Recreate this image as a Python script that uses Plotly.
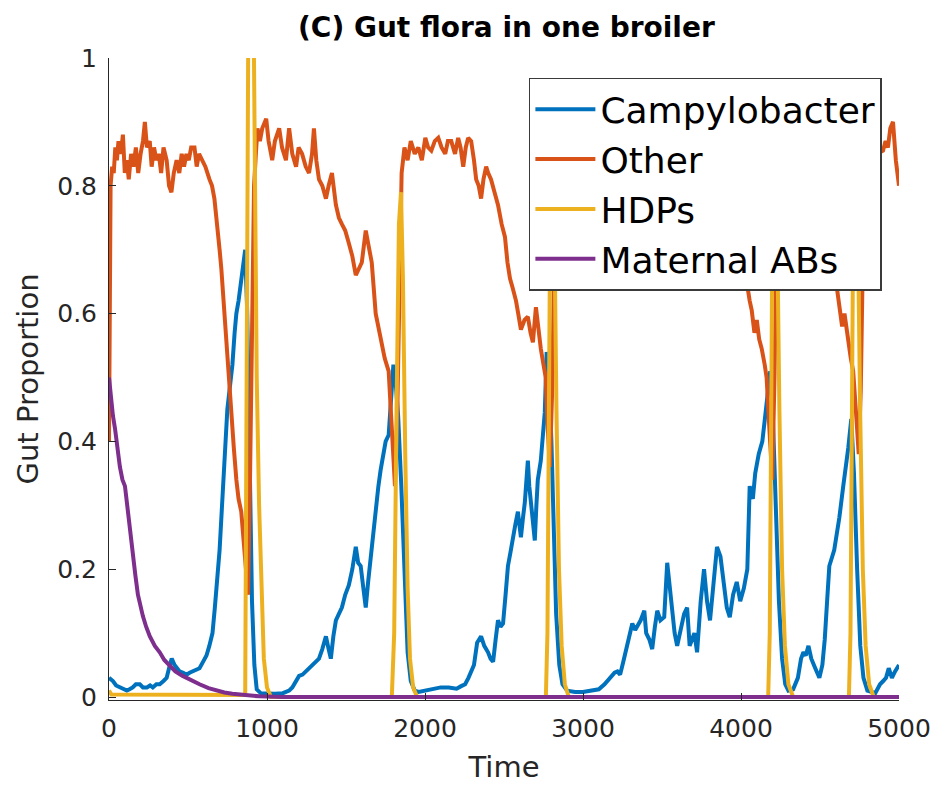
import plotly.graph_objects as go

# Simulation output: gut composition of a single broiler over time
camp_t = [0, 12, 25, 45, 70, 90, 113, 130, 150, 170, 195, 215, 240, 260, 277, 300, 321, 345, 365, 380,
          397, 415, 430, 447, 470, 491, 510, 529, 550, 573, 595, 617, 635, 655, 670, 686, 700, 711, 720, 730,
          740, 749, 765, 781, 795, 806, 820, 837, 850, 862, 875, 890, 905, 920, 935, 960, 1000, 1050, 1100, 1140,
          1160, 1180, 1203, 1225, 1247, 1265, 1285, 1305, 1329, 1350, 1373, 1390, 1404, 1420, 1436, 1455, 1474, 1495, 1518, 1540,
          1562, 1577, 1593, 1610, 1625, 1640, 1656, 1672, 1688, 1705, 1719, 1735, 1751, 1770, 1785, 1800, 1815, 1830, 1850, 1870,
          1890, 1910, 1935, 1960, 2000, 2050, 2100, 2150, 2200, 2229, 2254, 2275, 2292, 2310, 2330, 2355, 2375, 2399, 2415, 2431,
          2447, 2462, 2478, 2494, 2510, 2525, 2540, 2557, 2572, 2588, 2600, 2607, 2620, 2632, 2645, 2651, 2660, 2670, 2683, 2695,
          2705, 2714, 2733, 2745, 2758, 2770, 2785, 2800, 2815, 2830, 2850, 2870, 2900, 2950, 3000, 3050, 3100, 3136, 3155, 3174,
          3200, 3218, 3235, 3255, 3281, 3300, 3312, 3330, 3344, 3365, 3388, 3400, 3420, 3438, 3455, 3470, 3490, 3514, 3533, 3550,
          3564, 3580, 3596, 3615, 3640, 3659, 3675, 3690, 3705, 3722, 3745, 3766, 3785, 3804, 3825, 3848, 3870, 3892, 3910, 3929,
          3950, 3973, 3995, 4018, 4040, 4055, 4075, 4090, 4112, 4135, 4155, 4175, 4185, 4200, 4220, 4240, 4260, 4280, 4300, 4330,
          4360, 4380, 4395, 4410, 4427, 4445, 4470, 4496, 4515, 4530, 4545, 4559, 4590, 4610, 4622, 4647, 4665, 4679, 4698, 4715,
          4735, 4755, 4775, 4800, 4850, 4880, 4900, 4918, 4935, 4955, 4975, 4990, 5000]
camp_v = [0.030, 0.028, 0.025, 0.018, 0.015, 0.012, 0.010, 0.012, 0.015, 0.020, 0.020, 0.015, 0.015, 0.018, 0.015, 0.020, 0.020, 0.025, 0.030, 0.045,
          0.060, 0.050, 0.045, 0.040, 0.038, 0.035, 0.038, 0.040, 0.042, 0.045, 0.055, 0.065, 0.080, 0.100, 0.140, 0.180, 0.230, 0.280, 0.330, 0.370,
          0.410, 0.450, 0.480, 0.520, 0.570, 0.600, 0.620, 0.650, 0.670, 0.700, 0.600, 0.350, 0.150, 0.050, 0.012, 0.006, 0.005, 0.005, 0.006, 0.010,
          0.015, 0.025, 0.033, 0.035, 0.040, 0.045, 0.050, 0.055, 0.060, 0.075, 0.095, 0.075, 0.060, 0.095, 0.120, 0.130, 0.140, 0.160, 0.175, 0.200,
          0.235, 0.210, 0.205, 0.170, 0.140, 0.180, 0.220, 0.260, 0.300, 0.330, 0.355, 0.380, 0.400, 0.410, 0.470, 0.520, 0.490, 0.440, 0.330, 0.180,
          0.070, 0.025, 0.010, 0.008, 0.010, 0.012, 0.015, 0.015, 0.013, 0.017, 0.020, 0.030, 0.040, 0.050, 0.085, 0.095, 0.080, 0.070, 0.060, 0.055,
          0.090, 0.120, 0.110, 0.115, 0.160, 0.205, 0.225, 0.245, 0.270, 0.290, 0.260, 0.250, 0.280, 0.305, 0.350, 0.370, 0.330, 0.305, 0.270, 0.245,
          0.300, 0.340, 0.370, 0.400, 0.445, 0.540, 0.500, 0.400, 0.260, 0.130, 0.050, 0.020, 0.010, 0.008, 0.008, 0.010, 0.012, 0.020, 0.025, 0.030,
          0.038, 0.040, 0.035, 0.055, 0.080, 0.100, 0.115, 0.105, 0.110, 0.120, 0.135, 0.100, 0.090, 0.075, 0.110, 0.135, 0.120, 0.125, 0.210, 0.170,
          0.135, 0.100, 0.080, 0.100, 0.130, 0.140, 0.080, 0.090, 0.100, 0.070, 0.150, 0.200, 0.150, 0.120, 0.180, 0.235, 0.220, 0.180, 0.140, 0.125,
          0.160, 0.180, 0.150, 0.170, 0.200, 0.330, 0.310, 0.350, 0.380, 0.400, 0.450, 0.490, 0.510, 0.450, 0.300, 0.150, 0.060, 0.020, 0.010, 0.012,
          0.030, 0.060, 0.070, 0.065, 0.080, 0.060, 0.045, 0.030, 0.050, 0.090, 0.150, 0.205, 0.230, 0.260, 0.280, 0.330, 0.360, 0.390, 0.435, 0.350,
          0.200, 0.080, 0.030, 0.010, 0.006, 0.020, 0.025, 0.030, 0.045, 0.030, 0.040, 0.048, 0.050]

other_t = [0, 5, 10, 20, 30, 40, 50, 60, 75, 88, 100, 113, 125, 140, 155, 170, 185, 200, 215, 227,
           240, 258, 270, 285, 300, 315, 330, 345, 365, 380, 395, 410, 428, 445, 460, 475, 490, 505, 520, 541,
           555, 570, 592, 610, 636, 652, 667, 686, 700, 711, 730, 749, 762, 775, 790, 806, 820, 837, 852, 869,
           880, 893, 905, 918, 932, 940, 955, 970, 995, 1010, 1033, 1050, 1077, 1095, 1120, 1140, 1160, 1184, 1200, 1222,
           1245, 1266, 1285, 1297, 1312, 1329, 1350, 1373, 1390, 1411, 1436, 1455, 1474, 1495, 1518, 1540, 1562, 1580, 1600, 1625,
           1645, 1663, 1688, 1705, 1725, 1745, 1770, 1782, 1795, 1810, 1825, 1838, 1852, 1870, 1890, 1910, 1935, 1958, 1980, 2002,
           2020, 2040, 2062, 2084, 2105, 2128, 2145, 2166, 2190, 2210, 2225, 2242, 2258, 2273, 2292, 2310, 2324, 2340, 2355, 2370,
           2387, 2400, 2418, 2440, 2462, 2485, 2506, 2522, 2538, 2555, 2576, 2590, 2607, 2630, 2651, 2668, 2683, 2702, 2718, 2733,
           2750, 2764, 2775, 2790, 2805, 2820, 2835, 2860, 2900, 2950, 3000, 3050, 3100, 3150, 3200, 3250, 3300, 3350, 3400, 3450,
           3500, 3550, 3600, 3650, 3700, 3750, 3800, 3850, 3892, 3920, 3950, 3975, 4000, 4020, 4036, 4055, 4068, 4085, 4100, 4115,
           4131, 4150, 4162, 4175, 4185, 4198, 4212, 4225, 4240, 4270, 4320, 4370, 4420, 4470, 4520, 4560, 4585, 4603, 4620, 4640,
           4655, 4675, 4695, 4710, 4722, 4732, 4745, 4758, 4772, 4790, 4820, 4860, 4899, 4915, 4930, 4945, 4962, 4972, 4980, 4990,
           5000]
other_v = [0.40, 0.62, 0.80, 0.83, 0.82, 0.86, 0.84, 0.87, 0.85, 0.88, 0.82, 0.84, 0.81, 0.85, 0.83, 0.86, 0.82, 0.85, 0.87, 0.90,
           0.86, 0.87, 0.83, 0.86, 0.84, 0.85, 0.82, 0.86, 0.84, 0.80, 0.79, 0.82, 0.84, 0.82, 0.85, 0.83, 0.85, 0.84, 0.86, 0.86,
           0.83, 0.85, 0.84, 0.83, 0.81, 0.80, 0.78, 0.74, 0.70, 0.67, 0.60, 0.52, 0.48, 0.445, 0.39, 0.34, 0.31, 0.29, 0.25, 0.205,
           0.16, 0.35, 0.62, 0.80, 0.86, 0.89, 0.87, 0.89, 0.905, 0.87, 0.84, 0.87, 0.89, 0.86, 0.84, 0.89, 0.85, 0.83, 0.86, 0.85,
           0.83, 0.82, 0.85, 0.89, 0.84, 0.81, 0.80, 0.78, 0.80, 0.82, 0.77, 0.75, 0.74, 0.73, 0.71, 0.69, 0.66, 0.67, 0.68, 0.73,
           0.70, 0.68, 0.60, 0.58, 0.555, 0.53, 0.51, 0.46, 0.41, 0.33, 0.45, 0.68, 0.82, 0.86, 0.84, 0.87, 0.85, 0.86, 0.84, 0.875,
           0.86, 0.855, 0.87, 0.875, 0.86, 0.85, 0.87, 0.87, 0.85, 0.875, 0.86, 0.83, 0.86, 0.875, 0.87, 0.84, 0.81, 0.80, 0.78, 0.81,
           0.83, 0.82, 0.81, 0.79, 0.77, 0.74, 0.72, 0.68, 0.655, 0.64, 0.62, 0.60, 0.575, 0.59, 0.595, 0.57, 0.555, 0.61, 0.57, 0.545,
           0.52, 0.50, 0.43, 0.36, 0.48, 0.72, 0.84, 0.87, 0.85, 0.88, 0.86, 0.88, 0.85, 0.87, 0.86, 0.84, 0.86, 0.83, 0.84, 0.81,
           0.82, 0.79, 0.78, 0.76, 0.75, 0.73, 0.72, 0.69, 0.645, 0.68, 0.70, 0.68, 0.69, 0.67, 0.65, 0.62, 0.605, 0.57, 0.59, 0.56,
           0.545, 0.52, 0.50, 0.44, 0.40, 0.34, 0.50, 0.72, 0.84, 0.86, 0.85, 0.87, 0.83, 0.80, 0.76, 0.72, 0.68, 0.65, 0.62, 0.58,
           0.60, 0.56, 0.53, 0.51, 0.45, 0.43, 0.38, 0.48, 0.70, 0.84, 0.86, 0.85, 0.855, 0.87, 0.86, 0.89, 0.90, 0.86, 0.84, 0.82,
           0.80]

hdp_t = [0, 15, 862, 872, 880, 890, 900, 912, 922, 935, 950, 965, 980, 1000, 1025,
         1790, 1805, 1820, 1835, 1848, 1860, 1875, 1890, 1905, 1925, 1950,
         2765, 2775, 2785, 2795, 2805, 2818, 2832, 2848, 2865, 2885, 2910,
         4172, 4182, 4192, 4202, 4215, 4228, 4243, 4260, 4278, 4300, 4330,
         4683, 4693, 4703, 4713, 4726, 4739, 4754, 4771, 4789, 4811, 4840, 5000]
hdp_v = [0.010, 0.004, 0.003, 0.50, 1.10, 1.50, 1.50, 1.10, 0.80, 0.50, 0.30, 0.15, 0.06, 0.015, 0.0,
         0.0, 0.10, 0.45, 0.74, 0.79, 0.66, 0.38, 0.17, 0.06, 0.015, 0.0,
         0.0, 0.10, 0.50, 0.85, 0.92, 0.75, 0.45, 0.20, 0.08, 0.02, 0.0,
         0.0, 0.10, 0.50, 0.85, 0.92, 0.75, 0.45, 0.20, 0.08, 0.02, 0.0,
         0.0, 0.10, 0.50, 0.85, 0.92, 0.75, 0.45, 0.20, 0.08, 0.02, 0.0, 0.0]

mab_t = [0, 10, 25, 38, 55, 69, 85, 101, 120, 135, 151, 167, 183, 200, 214, 235, 258, 290, 321, 350,
         384, 420, 466, 520, 573, 630, 680, 730, 781, 850, 950, 1100, 5000]
mab_v = [0.50, 0.47, 0.44, 0.42, 0.38, 0.36, 0.34, 0.33, 0.29, 0.255, 0.225, 0.19, 0.16, 0.14, 0.127, 0.11, 0.095, 0.08, 0.07, 0.058,
         0.049, 0.04, 0.033, 0.026, 0.02, 0.014, 0.01, 0.007, 0.005, 0.003, 0.001, 0.0, 0.0]

series = [
    ("Campylobacter", camp_t, camp_v, "#0072BD"),
    ("Other", other_t, other_v, "#D95319"),
    ("HDPs", hdp_t, hdp_v, "#EDB120"),
    ("Maternal ABs", mab_t, mab_v, "#7E2F8E"),
]

FONT = "DejaVu Sans, Verdana, sans-serif"
INK = "#262626"

fig = go.Figure()
for name, t, v, color in series:
    fig.add_trace(go.Scatter(x=t, y=v, mode="lines", name=name,
                             line=dict(color=color, width=4)))

fig.update_layout(
    width=943, height=789,
    margin=dict(l=109, r=40, t=58, b=88),
    paper_bgcolor="white", plot_bgcolor="white",
    font=dict(family=FONT, color=INK),
    title=dict(text="<b>(C) Gut flora in one broiler</b>", x=0.537, xanchor="center",
               y=0.965, yanchor="middle", font=dict(size=28, color="black")),
    showlegend=True,
    legend=dict(x=0.5315, y=0.969, xanchor="left", yanchor="top",
                bgcolor="white", bordercolor="#3a3a3a", borderwidth=1.5,
                font=dict(size=36, color="black"), itemwidth=60,
                tracegroupgap=0),
)
fig.update_xaxes(range=[0, 5000], tickvals=[0, 1000, 2000, 3000, 4000, 5000],
                 ticks="inside", ticklen=7, tickcolor=INK, showline=True, linecolor=INK,
                 linewidth=1, showgrid=False, zeroline=False,
                 tickfont=dict(size=25, color=INK), ticklabelstandoff=6,
                 title=dict(text="Time", font=dict(size=29, color=INK), standoff=14))
fig.update_yaxes(range=[-0.0047, 1.0], tickvals=[0, 0.2, 0.4, 0.6, 0.8, 1],
                 ticktext=["0", "0.2", "0.4", "0.6", "0.8", "1"],
                 ticks="inside", ticklen=7, tickcolor=INK, showline=True, linecolor=INK,
                 linewidth=1, showgrid=False, zeroline=False,
                 tickfont=dict(size=25, color=INK), ticklabelstandoff=6,
                 title=dict(text="Gut Proportion", font=dict(size=29, color=INK), standoff=10))

fig.write_html("out.html")
